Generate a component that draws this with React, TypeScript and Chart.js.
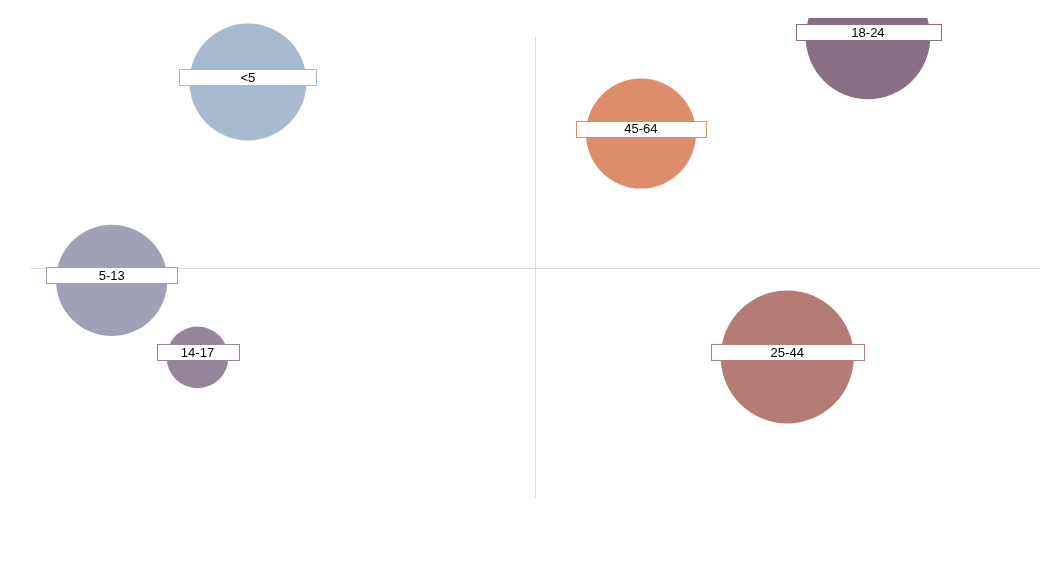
import React, { useEffect, useRef } from "react";
import { Chart, registerables } from "chart.js";

Chart.register(...registerables);

const groups = ["<5", "5-13", "14-17", "18-24", "25-44", "45-64"];
const xValues = [-57.0, -84.0, -67.0, 65.9, 49.9, 20.9];
const yValues = [80.5, -5.6, -39.0, 100, -38.8, 58.1];
const sizes = [58.5, 55.7, 30.8, 62.3, 66.5, 55.0];
const colors = ["#A8BACF", "#A0A0B6", "#958599", "#8A6E84", "#B57C76", "#DE8D6A"];

const axisLines = {
  id: "axisLines",
  beforeDatasetsDraw(chart: any) {
    const { ctx, chartArea, scales } = chart;
    const x0 = Math.round(scales.x.getPixelForValue(0)) - 0.5;
    const y0 = Math.round(scales.y.getPixelForValue(0)) + 0.5;
    ctx.save();
    ctx.strokeStyle = "#dcdcdc";
    ctx.lineWidth = 1;
    ctx.beginPath();
    ctx.moveTo(x0, chartArea.top);
    ctx.lineTo(x0, chartArea.bottom);
    ctx.moveTo(chartArea.left, y0);
    ctx.lineTo(chartArea.right, y0);
    ctx.stroke();
    ctx.restore();
  },
};

const boxLabels = {
  id: "boxLabels",
  afterDatasetsDraw(chart: any) {
    const { ctx } = chart;
    const meta = chart.getDatasetMeta(0);
    ctx.save();
    ctx.font = "13px 'Liberation Sans', Arial, sans-serif";
    ctx.textAlign = "center";
    ctx.textBaseline = "middle";
    meta.data.forEach((pt: any, i: number) => {
      const r = sizes[i];
      const left = Math.round(pt.x - r - 10) + 0.5;
      const top = Math.round(pt.y - 13) + 0.5;
      const w = Math.round(2 * r + 20);
      const h = 16;
      ctx.fillStyle = "#ffffff";
      ctx.fillRect(left, top, w, h);
      ctx.strokeStyle = colors[i];
      ctx.lineWidth = 1;
      ctx.strokeRect(left, top, w, h);
      ctx.fillStyle = "#000000";
      ctx.fillText(groups[i], pt.x, pt.y - 4);
    });
    ctx.restore();
  },
};

export default function App() {
  const ref = useRef<HTMLCanvasElement>(null);
  useEffect(() => {
    if (!ref.current) return;
    const chart = new Chart(ref.current, {
      type: "bubble",
      data: {
        labels: groups,
        datasets: [
          {
            data: groups.map((_, i) => ({ x: xValues[i], y: yValues[i], r: sizes[i] })),
            backgroundColor: colors,
            borderWidth: 0,
            clip: { left: 40, top: 19, right: 40, bottom: 40 } as any,
          },
        ],
      },
      options: {
        animation: false,
        responsive: true,
        maintainAspectRatio: false,
        layout: { autoPadding: false, padding: { left: 23, top: 29, right: 0, bottom: 66 } },
        scales: {
          x: { min: -100, max: 100, display: false },
          y: { min: -100, max: 100, display: false },
        },
        plugins: {
          legend: { display: false },
          tooltip: { enabled: false },
        },
      },
      plugins: [axisLines, boxLabels],
    });
    return () => chart.destroy();
  }, []);
  return (
    <div style={{ position: "relative", width: "1032px", height: "556px" }}>
      <canvas ref={ref} />
    </div>
  );
}
